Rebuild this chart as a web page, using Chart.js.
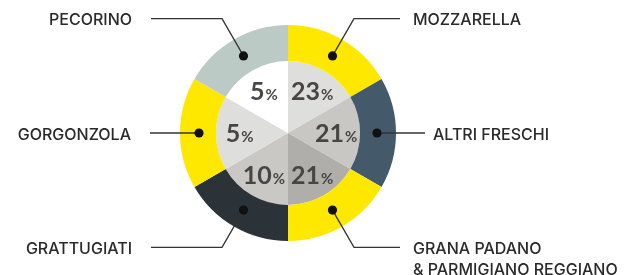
<!DOCTYPE html>
<html>
<head>
<meta charset="utf-8">
<script src="https://cdn.jsdelivr.net/npm/chart.js@4/dist/chart.umd.min.js"></script>
<style>
  html, body { margin: 0; padding: 0; background: #fff; }
  #wrap { width: 634px; height: 275px; }
</style>
</head>
<body>
<div id="wrap"><canvas id="chart" width="634" height="275"></canvas></div>
<script>
// categories go clockwise from 12 o'clock
const categories = [
  ['MOZZARELLA'],
  ['ALTRI FRESCHI'],
  ['GRANA PADANO', '& PARMIGIANO REGGIANO'],
  ['GRATTUGIATI'],
  ['GORGONZOLA'],
  ['PECORINO']
];
const shares = [23, 21, 21, 10, 5, 5];
// in the picture every wedge is the same sixth of the circle
const segmentSize = [1, 1, 1, 1, 1, 1];

const ringColors = ['#ffe800', '#445a6b', '#ffe800', '#2b3238', '#ffe800', '#bccac5'];
const pieColors = ['#dededc', '#c8c7c4', '#afaeaa', '#c9c8c5', '#dededc', '#ffffff'];

const labelFont = '500 16px Inter';
const numFont = 'bold 25px Lato';
const pctFont = 'bold 15px Lato';

// leader lines, dots, names and percentages
const decorations = {
  id: 'decorations',
  afterDatasetsDraw(chart) {
    const ctx = chart.ctx;
    const ring = chart.getDatasetMeta(0).data;
    const pie = chart.getDatasetMeta(1).data;

    // percentages inside the pie
    pie.forEach((arc, i) => {
      const p = arc.getProps(['x', 'y', 'startAngle', 'endAngle', 'outerRadius'], true);
      const mid = (p.startAngle + p.endAngle) / 2;
      const r = p.outerRadius * 0.67;
      const cx = p.x + Math.cos(mid) * r;
      const cy = p.y + Math.sin(mid) * r;
      const num = String(shares[i]);
      ctx.save();
      ctx.fillStyle = '#4a4545';
      ctx.textBaseline = 'alphabetic';
      ctx.textAlign = 'left';
      ctx.font = numFont;
      const nw = ctx.measureText(num).width;
      ctx.font = pctFont;
      const pw = ctx.measureText('%').width;
      const x0 = cx - (nw + pw + 1) / 2;
      ctx.font = numFont;
      ctx.fillText(num, x0, cy + 9);
      ctx.font = pctFont;
      ctx.fillText('%', x0 + nw + 1, cy + 9);
      ctx.restore();
    });

    ring.forEach((arc, i) => {
      const p = arc.getProps(['x', 'y', 'startAngle', 'endAngle', 'innerRadius', 'outerRadius'], true);
      const mid = (p.startAngle + p.endAngle) / 2;
      const rDot = (p.innerRadius + p.outerRadius) / 2 - 1;
      const dx = Math.cos(mid), dy = Math.sin(mid);
      const dot = { x: p.x + dx * rDot, y: p.y + dy * rDot };
      const right = dx > 0;
      const flat = Math.abs(dy) < 0.1;
      const elbow = flat ? dot : { x: p.x + dx * 132, y: p.y + dy * 132 };
      const endX = flat ? dot.x + (right ? 48 : -49) : elbow.x + (right ? 46 : -71);

      ctx.save();
      ctx.strokeStyle = '#333';
      ctx.lineWidth = 1.3;
      ctx.beginPath();
      ctx.moveTo(dot.x, dot.y);
      ctx.lineTo(elbow.x, elbow.y);
      ctx.lineTo(endX, elbow.y);
      ctx.stroke();
      ctx.fillStyle = '#111';
      ctx.beginPath();
      ctx.arc(dot.x, dot.y, 4.6, 0, Math.PI * 2);
      ctx.fill();

      ctx.fillStyle = '#2a2a2a';
      ctx.font = labelFont;
      ctx.textBaseline = 'middle';
      ctx.textAlign = right ? 'left' : 'right';
      const tx = right ? endX + (flat ? 8 : 13) : endX - 19;
      categories[i].forEach((line, k) => {
        ctx.fillText(line, tx, elbow.y + 2 + k * 21);
      });
      ctx.restore();
    });
  }
};

new Chart(document.getElementById('chart'), {
  type: 'doughnut',
  data: {
    labels: categories.map(c => c.join(' ')),
    datasets: [
      { data: segmentSize, backgroundColor: ringColors, borderWidth: 0, weight: 36 },
      { data: segmentSize, backgroundColor: pieColors, borderWidth: 0, weight: 72 }
    ]
  },
  options: {
    responsive: false,
    animation: false,
    cutout: 0,
    layout: { padding: { top: 25, bottom: 34, left: 100, right: 158 } },
    plugins: { legend: { display: false }, tooltip: { enabled: false } }
  },
  plugins: [decorations]
});
</script>
</body>
</html>
